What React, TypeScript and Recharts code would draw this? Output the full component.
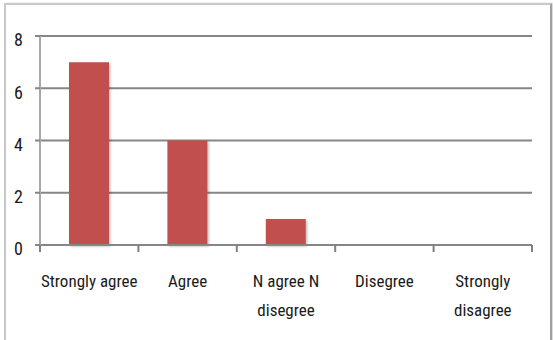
import { BarChart, Bar, XAxis, YAxis, CartesianGrid } from 'recharts';

const categories = ['Strongly agree', 'Agree', 'N agree N disegree', 'Disegree', 'Strongly disagree'];
const responses = [7, 4, 1, 0, 0];
const yTicks = [0, 2, 4, 6, 8];

const data = categories.map((name, i) => ({ name, value: responses[i] }));

const FONT = '"Liberation Sans Narrow", "Roboto Condensed", Roboto, sans-serif';
const TICK_SIZE = 6;
const TICK_MARGIN = 36;

// long labels break at the last space, like the original
function splitLabel(label: string): string[] {
  if (label.length <= 14) return [label];
  const cut = label.lastIndexOf(' ');
  return [label.slice(0, cut), label.slice(cut + 1)];
}

// label plus the tick marks between categories (Excel style)
function CategoryTick(props: any) {
  const x = Number(props.x);
  const y = Number(props.y);
  const { payload, index, visibleTicksCount } = props;
  const lines = splitLabel(String(payload.value));
  const half = Number(payload.offset) || 0;
  const axisY = y - TICK_MARGIN - TICK_SIZE;
  const marks = [x - half];
  if (index === visibleTicksCount - 1) marks.push(x + half);
  const d = marks.map((mx) => `M${mx},${axisY}V${axisY + TICK_SIZE + 1}`).join('');
  return (
    <g>
      <path d={d} stroke="#7f7f7f" strokeWidth={2} fill="none" />
      <text x={x} y={y} textAnchor="middle" fill="#1a1a1a" fontSize={17} fontFamily={FONT}>
        {lines.map((line, i) => (
          <tspan key={i} x={x} dy={i === 0 ? 0 : 29}>
            {line}
          </tspan>
        ))}
      </text>
    </g>
  );
}

export default function App() {
  return (
    <div style={{ position: 'absolute', left: 0, top: 0, width: 553, height: 340, background: '#fff' }}>
      <div
        style={{
          position: 'absolute',
          left: 4,
          top: 3,
          width: 544,
          height: 345,
          borderLeft: '2px solid #c8c8c8',
          borderTop: '2px solid #c8c8c8',
          borderRight: '2px solid #a0a0a0',
          boxShadow: '2px 0 2px rgba(0,0,0,0.15)',
        }}
      />
      <BarChart
        width={553}
        height={340}
        data={data}
        margin={{ top: 36, right: 21, left: 0, bottom: 0 }}
        style={{ position: 'absolute', left: 0, top: 0, overflow: 'visible' }}
      >
        <defs>
          <filter id="barShadow" x="-20%" y="-20%" width="140%" height="140%">
            <feDropShadow dx="1.5" dy="1.5" stdDeviation="1" floodColor="#000" floodOpacity="0.25" />
          </filter>
        </defs>
        <CartesianGrid vertical={false} stroke="#868686" strokeWidth={2} />
        <XAxis
          dataKey="name"
          height={95}
          axisLine={{ stroke: '#868686', strokeWidth: 2 }}
          tickLine={false}
          tickSize={TICK_SIZE}
          tickMargin={TICK_MARGIN}
          interval={0}
          tick={<CategoryTick />}
        />
        <YAxis
          width={40}
          domain={[0, 8]}
          ticks={yTicks}
          interval={0}
          tickSize={5}
          tickMargin={12}
          axisLine={{ stroke: '#a8a8a8', strokeWidth: 2 }}
          tickLine={{ stroke: '#868686', strokeWidth: 2 }}
          tick={{ fill: '#1a1a1a', fontSize: 18, fontFamily: FONT, dy: 4 }}
        />
        <Bar dataKey="value" fill="#C0504D" barSize={40} filter="url(#barShadow)" isAnimationActive={false} />
      </BarChart>
    </div>
  );
}
